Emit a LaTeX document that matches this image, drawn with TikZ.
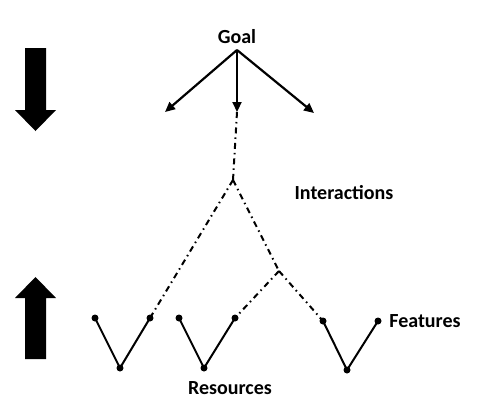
\documentclass[tikz,border=0pt]{standalone}
\usepackage{fontspec}
\setmainfont{Carlito}
\usetikzlibrary{arrows.meta}

\begin{document}
\begin{tikzpicture}[
        x=1pt, y=-1pt,
        >={Triangle[length=10pt, width=9pt]},
        lbl/.style={font=\fontsize{20}{24}\selectfont\bfseries, inner sep=0pt},
        dot/.style={circle, fill, inner sep=0pt, minimum size=7pt},
        leg/.style={line width=2pt},
        goalarr/.style={->, line width=2.2pt},
        link/.style={line width=2pt, dash pattern=on 6pt off 4pt on 1.5pt off 4pt},
        bigarr/.style={fill=black, draw=none}
    ]
        \useasboundingbox (0,0) rectangle (478,413);

        % labels
        \node[lbl] (goal) at (237,37) {Goal};
        \node[lbl] (inter) at (344,193) {Interactions};
        \node[lbl] (feat) at (425,321) {Features};
        \node[lbl] (res) at (230,388) {Resources};

        % arrows from the goal
        \coordinate (g0) at (237,50);
        \coordinate (gl) at (165,112);
        \coordinate (gm) at (237,112);
        \coordinate (gr) at (314,113);
        \draw[goalarr] (g0) -- (gl);
        \draw[goalarr] (g0) -- (gm);
        \draw[goalarr] (g0) -- (gr);

        % the three V shapes
        \node[dot] (a1) at (95,318) {};
        \node[dot] (b1) at (120,368) {};
        \node[dot] (c1) at (150,318) {};
        \node[dot] (a2) at (179,318) {};
        \node[dot] (b2) at (204,368) {};
        \node[dot] (c2) at (235,318) {};
        \node[dot] (a3) at (323,321) {};
        \node[dot] (b3) at (347,370) {};
        \node[dot] (c3) at (378,321) {};
        \draw[leg] (a1.center) -- (b1.center) -- (c1.center);
        \draw[leg] (a2.center) -- (b2.center) -- (c2.center);
        \draw[leg] (a3.center) -- (b3.center) -- (c3.center);

        % interactions
        \coordinate (top) at (233,180);
        \coordinate (mid) at (279,271);
        \draw[link] (gm) -- (top);
        \draw[link] (top) -- (c1.center);
        \draw[link] (top) -- (mid);
        \draw[link] (mid) -- (a3.center);
        \draw[link] (mid) -- (c2.center);

        % big arrows on the left
        \fill[bigarr] (25,48) -- (46,48) -- (46,110) -- (56,110) -- (35.5,131)
            -- (15,110) -- (25,110) -- cycle;
        \fill[bigarr] (35.5,277) -- (56,298) -- (46,298) -- (46,359) -- (25,359)
            -- (25,298) -- (15,298) -- cycle;

    \end{tikzpicture}
\end{document}
